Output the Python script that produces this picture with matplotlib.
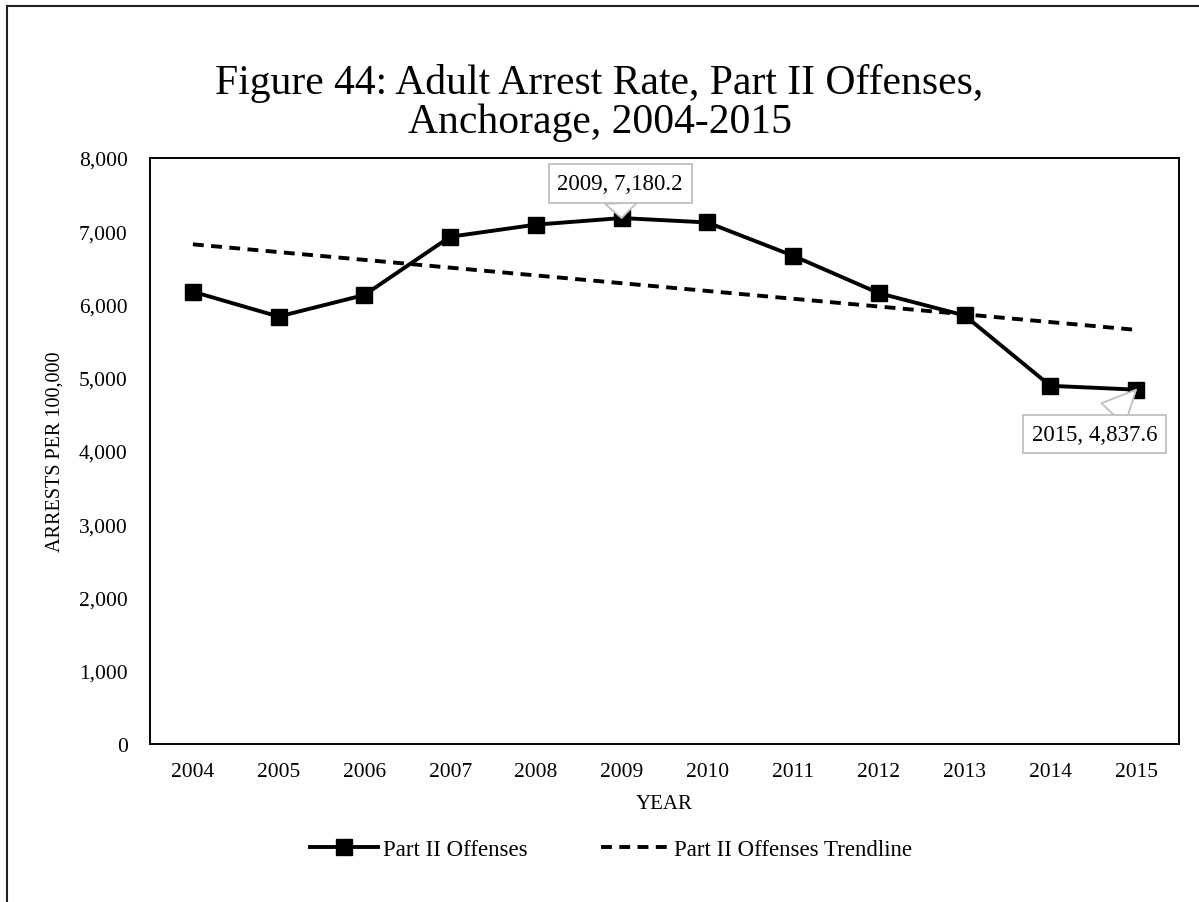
import matplotlib
matplotlib.use("Agg")
import matplotlib.pyplot as plt
import numpy as np
from matplotlib.ticker import FuncFormatter
from matplotlib.lines import Line2D

years = ["2004", "2005", "2006", "2007", "2008", "2009", "2010", "2011", "2012", "2013", "2014", "2015"]
rates = [6175, 5835, 6130, 6925, 7090, 7180.2, 7120, 6665, 6155, 5850, 4890, 4837.6]
series_name = "Part II Offenses"
trend_name = "Part II Offenses Trendline"
title_lines = ["Figure 44: Adult Arrest Rate, Part II Offenses,", "Anchorage, 2004-2015"]
ylabel = "ARRESTS PER 100,000"
xlabel = "YEAR"
callouts = [(5, "2009, 7,180.2"), (11, "2015, 4,837.6")]

plt.rcParams['font.family'] = ['Liberation Serif', 'DejaVu Serif']

W, H = 1199, 903
fig = plt.figure(figsize=(W / 100, H / 100), dpi=100)
ax = fig.add_axes([150 / W, 1 - 745 / H, (1179 - 150) / W, (745 - 159) / H])

LW = 2.8
DASH = (0, (2.8, 1.9))
x = np.arange(len(years))
ax.plot(x, rates, color='black', lw=LW, marker='s', markersize=11.5, zorder=3)
coef = np.polyfit(x, rates, 1)
ax.plot(x, np.polyval(coef, x), color='black', lw=LW, ls=DASH, zorder=2)

ax.set_xlim(-0.5, len(years) - 0.5)
ax.set_ylim(0, 8000)
ax.set_yticks(np.arange(0, 8001, 1000))
ax.yaxis.set_major_formatter(FuncFormatter(lambda v, p: f"{int(v):,}"))
ax.set_xticks(x)
ax.set_xticklabels(years)
ax.tick_params(axis='both', length=0, labelsize=15.5)
ax.tick_params(axis='x', pad=13)
ax.tick_params(axis='y', pad=16)
for s in ax.spines.values():
    s.set_linewidth(1.4)
ax.set_ylabel(ylabel, fontsize=14.5, labelpad=10)
ax.set_xlabel(xlabel, fontsize=15, labelpad=9)

# callouts
bbox = dict(boxstyle='square,pad=0.38', fc='white', ec='#BFBFBF', lw=1.3)
arrow = dict(arrowstyle='wedge,tail_width=1.4', fc='white', ec='#BFBFBF', lw=1.3,
             shrinkA=0, shrinkB=0)
i, txt = callouts[0]
ax.annotate(txt, xy=(x[i], rates[i]), xytext=(-1, 25), textcoords='offset points',
            ha='center', va='center', fontsize=16.5, bbox=bbox, arrowprops=arrow, zorder=5)
i, txt = callouts[1]
ax.annotate(txt, xy=(x[i], rates[i]), xytext=(-30, -32), textcoords='offset points',
            ha='center', va='center', fontsize=16.5, bbox=bbox, arrowprops=arrow, zorder=5)

fig.text(0.5, 1 - 84 / H, title_lines[0], ha='center', va='center', fontsize=30)
fig.text(0.5, 1 - 123 / H, title_lines[1], ha='center', va='center', fontsize=30)

handles = [Line2D([], [], color='black', lw=LW, marker='s', markersize=11.5),
           Line2D([], [], color='black', lw=LW, ls=DASH)]
fig.legend(handles, [series_name, trend_name], loc='center', bbox_to_anchor=(611 / W, 1 - 850 / H),
           ncol=2, frameon=False, fontsize=16.5, handlelength=3.0, columnspacing=3.2, handletextpad=0.2)

# outer frame
fig.add_artist(Line2D([7 / W, 7 / W], [0, 1 - 7 / H], color='#222222', lw=1.5, transform=fig.transFigure))
fig.add_artist(Line2D([7 / W, 1], [1 - 7 / H, 1 - 7 / H], color='#222222', lw=1.5, transform=fig.transFigure))

fig.savefig("out.png", dpi=100)
